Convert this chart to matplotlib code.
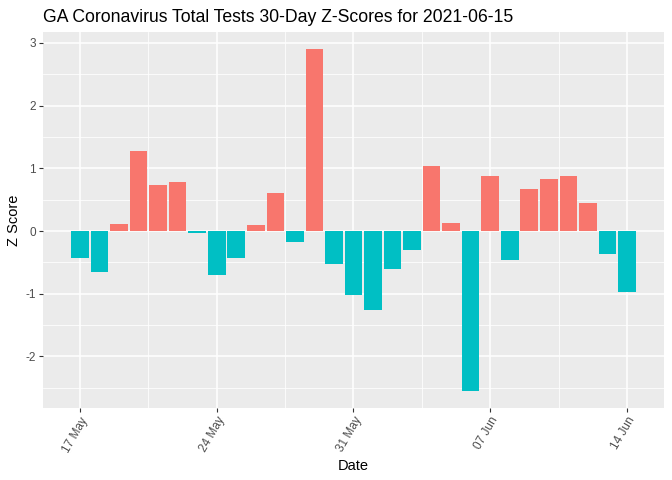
import matplotlib
matplotlib.use('Agg')
import matplotlib.pyplot as plt
import matplotlib.dates as mdates
import pandas as pd

# daily z-scores, 17 May .. 14 Jun 2021
dates = pd.date_range('2021-05-17', '2021-06-14', freq='D')
z_scores = [-0.43, -0.66, 0.11, 1.28, 0.73, 0.78, -0.03,
            -0.70, -0.43, 0.10, 0.61, -0.17, 2.90, -0.52,
            -1.02, -1.26, -0.60, -0.31, 1.04, 0.13, -2.55,
            0.88, -0.46, 0.67, 0.83, 0.88, 0.45, -0.36, -0.97]
tick_dates = pd.to_datetime(['2021-05-17', '2021-05-24', '2021-05-31',
                             '2021-06-07', '2021-06-14'])
y_ticks = [-2, -1, 0, 1, 2, 3]

plt.rcParams['font.family'] = ['Liberation Sans', 'DejaVu Sans']

fig = plt.figure(figsize=(6.72, 4.8), dpi=100)
ax = fig.add_axes([0.064, 0.15, 0.924, 0.783])
ax.set_facecolor('#EBEBEB')

colors = ['#F8766D' if z > 0 else '#00BFC4' for z in z_scores]
x = mdates.date2num(dates)
ax.bar(x, z_scores, width=0.9, color=colors, zorder=3)

major_x = mdates.date2num(tick_dates)
ax.set_xticks(major_x)
ax.set_xticklabels([d.strftime('%d %b') for d in tick_dates],
                   rotation=60, ha='right', rotation_mode='anchor')
ax.set_xticks([m + 3.5 for m in major_x] + [major_x[0] - 3.5], minor=True)
ax.set_yticks(y_ticks)
ax.set_yticklabels([str(v) for v in y_ticks])
ax.set_yticks([v + 0.5 for v in y_ticks[:-1]] + [-2.5], minor=True)

# ggplot style 5% expansion (set after the ticks so they don't widen it)
lo, hi = x[0] - 0.45, x[-1] + 0.45
pad = (hi - lo) * 0.05
ax.set_xlim(lo - pad, hi + pad)
ymin, ymax = min(z_scores), max(z_scores)
ypad = (ymax - ymin) * 0.05
ax.set_ylim(ymin - ypad, ymax + ypad)

ax.grid(which='major', color='white', linewidth=1.1, zorder=0)
ax.grid(which='minor', color='white', linewidth=0.55, zorder=0)
for sp in ax.spines.values():
    sp.set_visible(False)
ax.tick_params(which='major', length=3, width=0.8, color='#333333',
               labelsize=8.5, labelcolor='#4D4D4D', pad=2)
ax.tick_params(which='minor', length=0)

ax.set_xlabel('Date', fontsize=10.5, labelpad=3)
ax.set_ylabel('Z Score', fontsize=10.5, labelpad=3)
fig.text(0.064, 0.955, 'GA Coronavirus Total Tests 30-Day Z-Scores for 2021-06-15',
         fontsize=12.7, ha='left', va='baseline')

fig.savefig('out.png', dpi=100)
